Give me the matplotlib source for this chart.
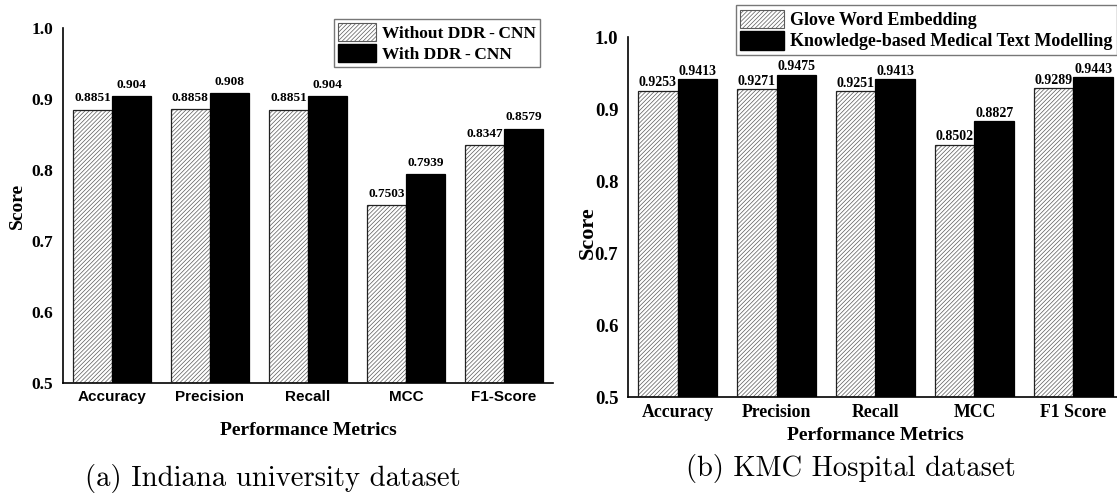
import matplotlib
matplotlib.use("Agg")
import matplotlib.pyplot as plt
from matplotlib.patches import Patch
import numpy as np

# ---- data ----
metrics_a = ["Accuracy", "Precision", "Recall", "MCC", "F1-Score"]
without_ddr = [0.8851, 0.8858, 0.8851, 0.7503, 0.8347]
with_ddr = [0.904, 0.908, 0.904, 0.7939, 0.8579]
labels_without = ["0.8851", "0.8858", "0.8851", "0.7503", "0.8347"]
labels_with = ["0.904", "0.908", "0.904", "0.7939", "0.8579"]

metrics_b = ["Accuracy", "Precision", "Recall", "MCC", "F1 Score"]
glove = [0.9253, 0.9271, 0.9251, 0.8502, 0.9289]
kbmtm = [0.9413, 0.9475, 0.9413, 0.8827, 0.9443]
labels_glove = ["0.9253", "0.9271", "0.9251", "0.8502", "0.9289"]
labels_kbmtm = ["0.9413", "0.9475", "0.9413", "0.8827", "0.9443"]

yticks = [0.5, 0.6, 0.7, 0.8, 0.9, 1.0]
ytick_labels = ["0.5", "0.6", "0.7", "0.8", "0.9", "1.0"]

SERIF = "Liberation Serif"
SANS = "Liberation Sans"
HATCH = "////////"
HATCH_COLOR = "#5a5a5a"

plt.rcParams["hatch.linewidth"] = 0.5

W, H = 1117, 498
fig = plt.figure(figsize=(W / 100, H / 100), dpi=100)


def px_axes(x0, x1, ytop, ybot):
    return fig.add_axes([x0 / W, (H - ybot) / H, (x1 - x0) / W, (ybot - ytop) / H])


def draw_panel(ax, cats, s1, s2, l1, l2, tick_font, tick_size, ytick_size,
               val_size, val_pad):
    x = np.arange(len(cats))
    w = 0.4
    # hatched bars: hatch layer + outline layer
    ax.bar(x - w / 2, s1, w, color="white", edgecolor=HATCH_COLOR,
           hatch=HATCH, linewidth=0, zorder=2)
    b1 = ax.bar(x - w / 2, s1, w, fill=False, edgecolor="#222222",
                linewidth=0.9, zorder=3)
    b2 = ax.bar(x + w / 2, s2, w, color="black", edgecolor="black",
                linewidth=0.9, zorder=3)
    ax.bar_label(b1, labels=l1, padding=val_pad, fontfamily=SERIF,
                 fontweight="bold", fontsize=val_size)
    ax.bar_label(b2, labels=l2, padding=val_pad, fontfamily=SERIF,
                 fontweight="bold", fontsize=val_size)
    ax.set_xlim(-0.5, len(cats) - 0.5)
    ax.set_ylim(0.5, 1.0)
    ax.set_yticks(yticks)
    ax.set_yticklabels(ytick_labels, fontfamily=SERIF, fontweight="bold",
                       fontsize=ytick_size)
    ax.set_xticks(x)
    ax.set_xticklabels(cats, fontfamily=tick_font, fontweight="bold",
                       fontsize=tick_size)
    ax.tick_params(axis="y", length=0, pad=7)
    ax.tick_params(axis="x", length=0, pad=5)
    for s in ("top", "right"):
        ax.spines[s].set_visible(False)
    for s in ("left", "bottom"):
        ax.spines[s].set_linewidth(1.2)
        ax.spines[s].set_color("black")


# ---- panel (a) ----
ax1 = px_axes(63, 553, 28, 383)
draw_panel(ax1, metrics_a, without_ddr, with_ddr, labels_without, labels_with,
           SANS, 11, 12.5, 9.5, 4)
ax1.set_ylabel("Score", fontfamily=SERIF, fontweight="bold", fontsize=14)
ax1.yaxis.set_label_coords(-0.093, 0.5)
ax1.set_xlabel("Performance Metrics", fontfamily=SERIF, fontweight="bold",
               fontsize=14)
ax1.xaxis.set_label_coords(0.5, -0.135)
ax1.xaxis.label.set_verticalalignment("center")
ax1.yaxis.label.set_verticalalignment("center")

h1 = Patch(facecolor="white", edgecolor=HATCH_COLOR, hatch=HATCH, linewidth=0.8)
h2 = Patch(facecolor="black", edgecolor="black")
leg1 = ax1.legend([h1, h2], ["Without DDR\u2009-\u2009CNN", "With DDR\u2009-\u2009CNN"],
                  loc="upper right", bbox_to_anchor=(540 / W, 1 - 19 / H),
                  bbox_transform=fig.transFigure,
                  prop={"family": SERIF, "weight": "bold", "size": 12.5},
                  frameon=True, fancybox=False, edgecolor="#777777",
                  framealpha=1, borderpad=0.25, labelspacing=0.12,
                  handlelength=2.2, handleheight=1.2, handletextpad=0.3,
                  borderaxespad=0)
leg1.get_frame().set_linewidth(1.0)

# ---- panel (b) ----
ax2 = px_axes(628, 1123, 37, 397)
draw_panel(ax2, metrics_b, glove, kbmtm, labels_glove, labels_kbmtm,
           SERIF, 12.8, 13.5, 10, 1.0)
ax2.set_ylabel("Score", fontfamily=SERIF, fontweight="bold", fontsize=16)
ax2.yaxis.set_label_coords(-0.082, 0.456)
ax2.set_xlabel("Performance Metrics", fontfamily=SERIF, fontweight="bold",
               fontsize=14)
ax2.xaxis.set_label_coords(0.5, -0.106)
ax2.xaxis.label.set_verticalalignment("center")
ax2.yaxis.label.set_verticalalignment("center")

leg2 = ax2.legend([h1, h2], ["Glove Word Embedding",
                             "Knowledge-based Medical Text Modelling"],
                  loc="upper right", bbox_to_anchor=(1117 / W, 1 - 5 / H),
                  bbox_transform=fig.transFigure,
                  prop={"family": SERIF, "weight": "bold", "size": 13},
                  frameon=True, fancybox=False, edgecolor="#777777",
                  framealpha=1, borderpad=0.25, labelspacing=0.12,
                  handlelength=2.4, handleheight=1.2, handletextpad=0.35,
                  borderaxespad=0)
leg2.get_frame().set_linewidth(1.0)

# ---- captions ----
fig.text(273 / W, 1 - 478 / H, "(a) Indiana university dataset",
         fontfamily="cmr10", fontsize=20.7, ha="center", va="center")
fig.text(851 / W, 1 - 468 / H, "(b) KMC Hospital dataset",
         fontfamily="cmr10", fontsize=20.5, ha="center", va="center")

fig.savefig("out.png", dpi=100)
